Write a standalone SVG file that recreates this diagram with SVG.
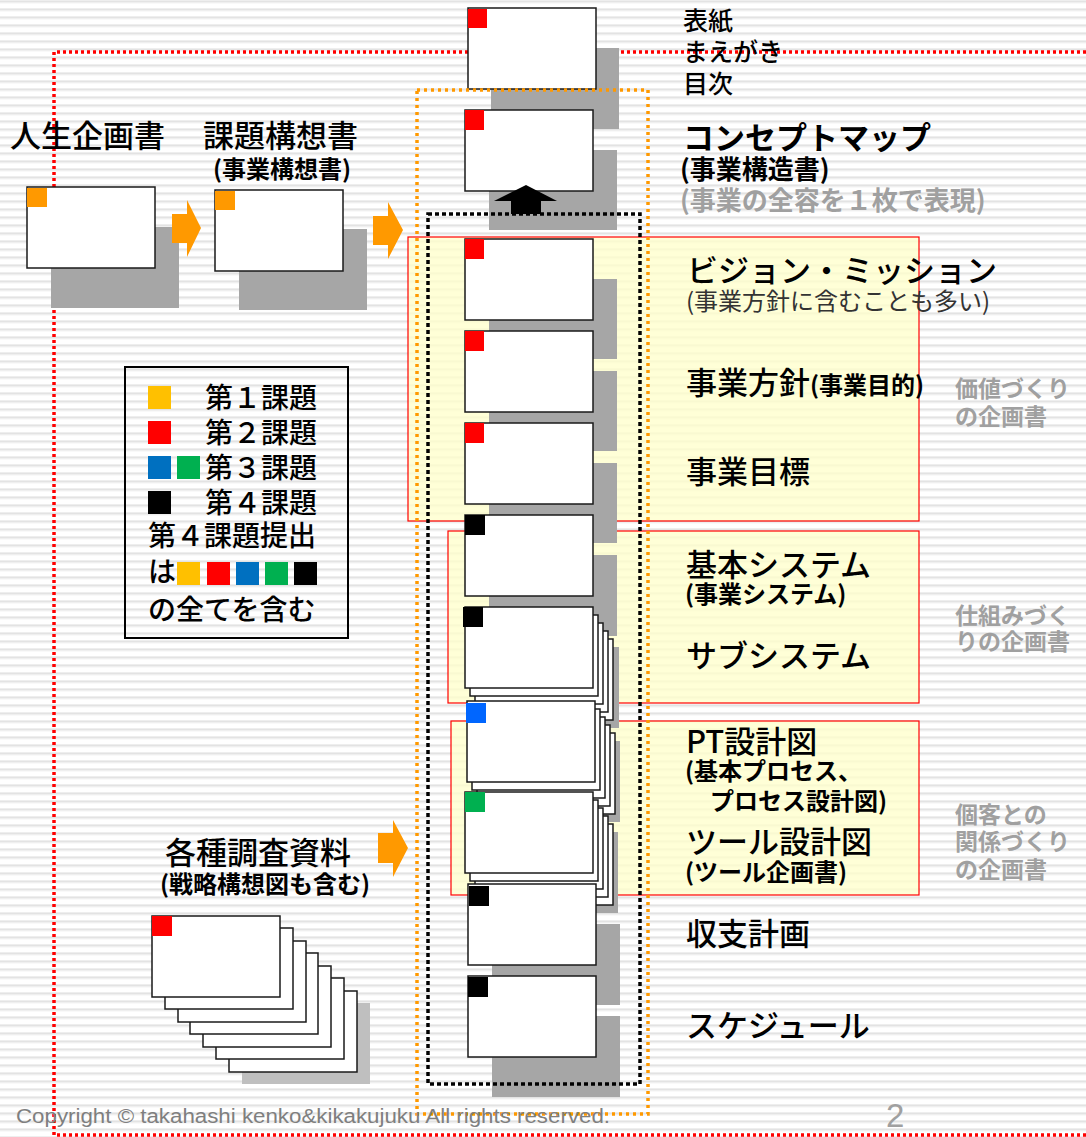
<svg xmlns="http://www.w3.org/2000/svg" width="1086" height="1137" viewBox="0 0 1086 1137">
<defs>
<pattern id="stripes" x="0" y="0.5" width="8" height="8" patternUnits="userSpaceOnUse">
<rect width="8" height="8" fill="#ffffff"/>
<rect y="0" width="8" height="1.6" fill="#dcdcdc"/>
<rect y="1.6" width="8" height="1" fill="#ececec"/>
</pattern>
<style>
.doc{fill:#ffffff;stroke:#1a1a1a;stroke-width:1.5}
.shd{fill:#a6a6a6}
.shl{fill:#bfbfbf}
.ybox{fill:#ffffcc;fill-opacity:0.78;stroke:#ff0000;stroke-width:1.2}
.t{font-family:'Noto Sans CJK JP','Noto Sans CJK SC',sans-serif;fill:#000}
.big{font-size:31px;font-weight:500}
.mid{font-size:24px;font-weight:bold}
.top{font-size:25px;font-weight:500}
.side{font-size:23px;font-weight:bold;fill:#a0a0a0}
.leg{font-size:28px;font-weight:500}
.arrow{fill:#ff9900}
</style>
</defs>
<rect width="1086" height="1137" fill="url(#stripes)"/>

<!-- red dotted frame -->
<path d="M1086,52 H54 V1135 H1086" fill="none" stroke="#ff0000" stroke-width="3.5" stroke-dasharray="3 3"/>

<!-- yellow boxes -->
<g id="box-value"><rect class="ybox" x="408" y="237" width="511" height="284"/></g>
<g id="box-system"><rect class="ybox" x="448" y="531" width="471" height="172"/></g>
<g id="box-customer"><rect class="ybox" x="451" y="721" width="468" height="174"/></g>

<!-- left docs -->
<g id="node-jinsei">
<rect class="shd" x="51" y="227" width="128" height="81"/>
<rect class="doc" x="27" y="187" width="128" height="81"/>
<rect x="27" y="188" width="20" height="19" fill="#ff9900"/>
<text class="t big" x="10" y="147">人生企画書</text>
</g>
<g id="node-kadai">
<rect class="shd" x="239" y="229" width="128" height="81"/>
<rect class="doc" x="215" y="190" width="128" height="81"/>
<rect x="215" y="191" width="20" height="19" fill="#ff9900"/>
<text class="t big" x="203" y="147">課題構想書</text>
<text class="t mid" x="213" y="178">(事業構想書)</text>
</g>

<!-- right column docs -->
<g id="node-hyoshi">
<rect class="shd" x="491" y="48" width="128" height="81"/>
<rect class="doc" x="468" y="8" width="128" height="81"/>
<rect x="468" y="9" width="19" height="19" fill="#ff0000"/>
<text class="t top" x="683" y="30">表紙</text>
<text class="t top" x="683" y="61">まえがき</text>
<text class="t top" x="683" y="93">目次</text>
</g>
<g id="node-concept">
<rect class="shd" x="489" y="150" width="128" height="80"/>
<rect class="doc" x="465" y="110" width="128" height="81"/>
<rect x="465" y="110" width="19" height="20" fill="#ff0000"/>
<text class="t" x="683" y="149" font-size="31" font-weight="bold">コンセプトマップ</text>
<text class="t" x="680" y="179" font-size="26" font-weight="bold">(事業構造書)</text>
<text class="t" x="680" y="210" font-size="26" font-weight="bold" style="fill:#a0a0a0">(事業の全容を１枚で表現)</text>
</g>
<g id="node-vision">
<rect class="shd" x="489" y="279" width="128" height="80"/>
<rect class="doc" x="465" y="239" width="128" height="81"/>
<rect x="465" y="239" width="19" height="20" fill="#ff0000"/>
<text class="t big" x="687" y="282">ビジョン・ミッション</text>
<text class="t" x="686" y="310" font-size="24" style="fill:#333">(事業方針に含むことも多い)</text>
</g>
<g id="node-hoshin">
<rect class="shd" x="489" y="371" width="128" height="80"/>
<rect class="doc" x="465" y="331" width="128" height="81"/>
<rect x="465" y="331" width="19" height="20" fill="#ff0000"/>
<text class="t big" x="686" y="394">事業方針<tspan font-size="24" font-weight="bold">(事業目的)</tspan></text>
</g>
<g id="node-mokuhyo">
<rect class="shd" x="489" y="463" width="128" height="80"/>
<rect class="doc" x="465" y="423" width="128" height="81"/>
<rect x="465" y="423" width="19" height="20" fill="#ff0000"/>
<text class="t big" x="686" y="483">事業目標</text>
</g>
<g id="node-kihon">
<rect class="shd" x="489" y="555" width="128" height="81"/>
<rect class="doc" x="465" y="515" width="128" height="81"/>
<rect x="465" y="515" width="20" height="20" fill="#000"/>
<text class="t big" x="686" y="576">基本システム</text>
<text class="t mid" x="685" y="603">(事業システム)</text>
</g>
<g id="node-sub">
<rect class="shd" x="490" y="647" width="129" height="81"/>
<rect class="doc" x="485" y="639" width="128" height="81"/>
<rect class="doc" x="480" y="631" width="128" height="81"/>
<rect class="doc" x="475" y="623" width="128" height="81"/>
<rect class="doc" x="470" y="615" width="128" height="81"/>
<rect class="doc" x="465" y="607" width="128" height="81"/>
<rect x="463" y="607" width="20" height="20" fill="#000"/>
<text class="t big" x="686" y="667">サブシステム</text>
</g>
<g id="node-pt">
<rect class="shd" x="492" y="741" width="128" height="81"/>
<rect class="doc" x="487" y="733" width="128" height="81"/>
<rect class="doc" x="482" y="725" width="128" height="81"/>
<rect class="doc" x="477" y="717" width="128" height="81"/>
<rect class="doc" x="472" y="709" width="128" height="81"/>
<rect class="doc" x="467" y="701" width="128" height="81"/>
<rect x="466" y="703" width="20" height="20" fill="#0066ff"/>
<text class="t big" x="686" y="753">PT設計図</text>
<text class="t mid" x="685" y="780">(基本プロセス、</text>
<text class="t mid" x="710" y="810">プロセス設計図)</text>
</g>
<g id="node-tool">
<rect class="shd" x="490" y="832" width="128" height="81"/>
<rect class="doc" x="485" y="824" width="128" height="81"/>
<rect class="doc" x="480" y="816" width="128" height="81"/>
<rect class="doc" x="475" y="808" width="128" height="81"/>
<rect class="doc" x="470" y="800" width="128" height="81"/>
<rect class="doc" x="465" y="792" width="128" height="81"/>
<rect x="465" y="792" width="20" height="20" fill="#00b050"/>
<text class="t big" x="686" y="853">ツール設計図</text>
<text class="t mid" x="685" y="881">(ツール企画書)</text>
</g>
<g id="node-shushi">
<rect class="shd" x="492" y="924" width="128" height="81"/>
<rect class="doc" x="468" y="884" width="128" height="81"/>
<rect x="469" y="886" width="20" height="20" fill="#000"/>
<text class="t big" x="686" y="945">収支計画</text>
</g>
<g id="node-schedule">
<rect class="shd" x="492" y="1016" width="128" height="81"/>
<rect class="doc" x="468" y="976" width="128" height="81"/>
<rect x="468" y="977" width="20" height="20" fill="#000"/>
<text class="t big" x="686" y="1037">スケジュール</text>
</g>

<!-- survey docs stack -->
<g id="node-chosa">
<rect class="shl" x="242" y="1003" width="128" height="81"/>
<rect class="doc" x="229" y="991" width="128" height="81"/>
<rect class="doc" x="216" y="978" width="128" height="81"/>
<rect class="doc" x="203" y="966" width="128" height="81"/>
<rect class="doc" x="190" y="953" width="128" height="81"/>
<rect class="doc" x="178" y="941" width="128" height="81"/>
<rect class="doc" x="165" y="928" width="128" height="81"/>
<rect class="doc" x="152" y="916" width="128" height="81"/>
<rect x="152" y="916" width="20" height="20" fill="#ff0000"/>
<text class="t big" x="165" y="864">各種調査資料</text>
<text class="t mid" x="160" y="893">(戦略構想図も含む)</text>
</g>

<!-- connectors -->
<g id="connectors">
<polygon class="arrow" points="172,214 187,214 187,200 201,228 187,257 187,243 172,243"/>
<polygon class="arrow" points="373,216 388,216 388,202 403,230 388,259 388,245 373,245"/>
<polygon class="arrow" points="378,833 393,833 393,820 408,848 393,877 393,863 378,863"/>
<polygon fill="#000" points="526,185 557,201 541,201 541,214 511,214 511,201 494,201"/>
</g>

<!-- dotted groupings -->
<g id="frames">
<rect x="417" y="90" width="231" height="1024" fill="none" stroke="#ff9900" stroke-width="3.5" stroke-dasharray="3 4"/>
<rect x="428" y="214" width="212" height="870" fill="none" stroke="#000" stroke-width="3.5" stroke-dasharray="4 3"/>
</g>

<!-- side labels -->
<g id="label-value">
<text class="t side" x="955" y="397">価値づくり</text>
<text class="t side" x="955" y="425">の企画書</text>
</g>
<g id="label-system">
<text class="t side" x="955" y="624">仕組みづく</text>
<text class="t side" x="955" y="650">りの企画書</text>
</g>
<g id="label-customer">
<text class="t side" x="955" y="823">個客との</text>
<text class="t side" x="955" y="850">関係づくり</text>
<text class="t side" x="955" y="878">の企画書</text>
</g>

<!-- legend -->
<g id="legend">
<rect x="125" y="367" width="223" height="271" fill="none" stroke="#000" stroke-width="2"/>
<rect x="148" y="386" width="23" height="23" fill="#ffc000"/>
<rect x="148" y="421" width="23" height="23" fill="#ff0000"/>
<rect x="148" y="456" width="23" height="23" fill="#0070c0"/>
<rect x="177" y="456" width="23" height="23" fill="#00b050"/>
<rect x="148" y="491" width="23" height="23" fill="#000"/>
<text class="t leg" x="205" y="408">第１課題</text>
<text class="t leg" x="205" y="443">第２課題</text>
<text class="t leg" x="205" y="478">第３課題</text>
<text class="t leg" x="205" y="513">第４課題</text>
<text class="t leg" x="148" y="546">第４課題提出</text>
<text class="t leg" x="148" y="582">は</text>
<rect x="177" y="562" width="23" height="23" fill="#ffc000"/>
<rect x="207" y="562" width="23" height="23" fill="#ff0000"/>
<rect x="236" y="562" width="23" height="23" fill="#0070c0"/>
<rect x="265" y="562" width="23" height="23" fill="#00b050"/>
<rect x="294" y="562" width="23" height="23" fill="#000"/>
<text class="t leg" x="148" y="620">の全てを含む</text>
</g>

<!-- footer -->
<text x="16" y="1123" font-family="'Liberation Sans',Arial,sans-serif" font-size="20" fill="#7f7f7f" textLength="594" lengthAdjust="spacingAndGlyphs">Copyright © takahashi kenko&amp;kikakujuku All rights reserved.</text>
<text x="886" y="1127" font-family="'Liberation Sans',Arial,sans-serif" font-size="33" fill="#a0a0a0">2</text>
</svg>
